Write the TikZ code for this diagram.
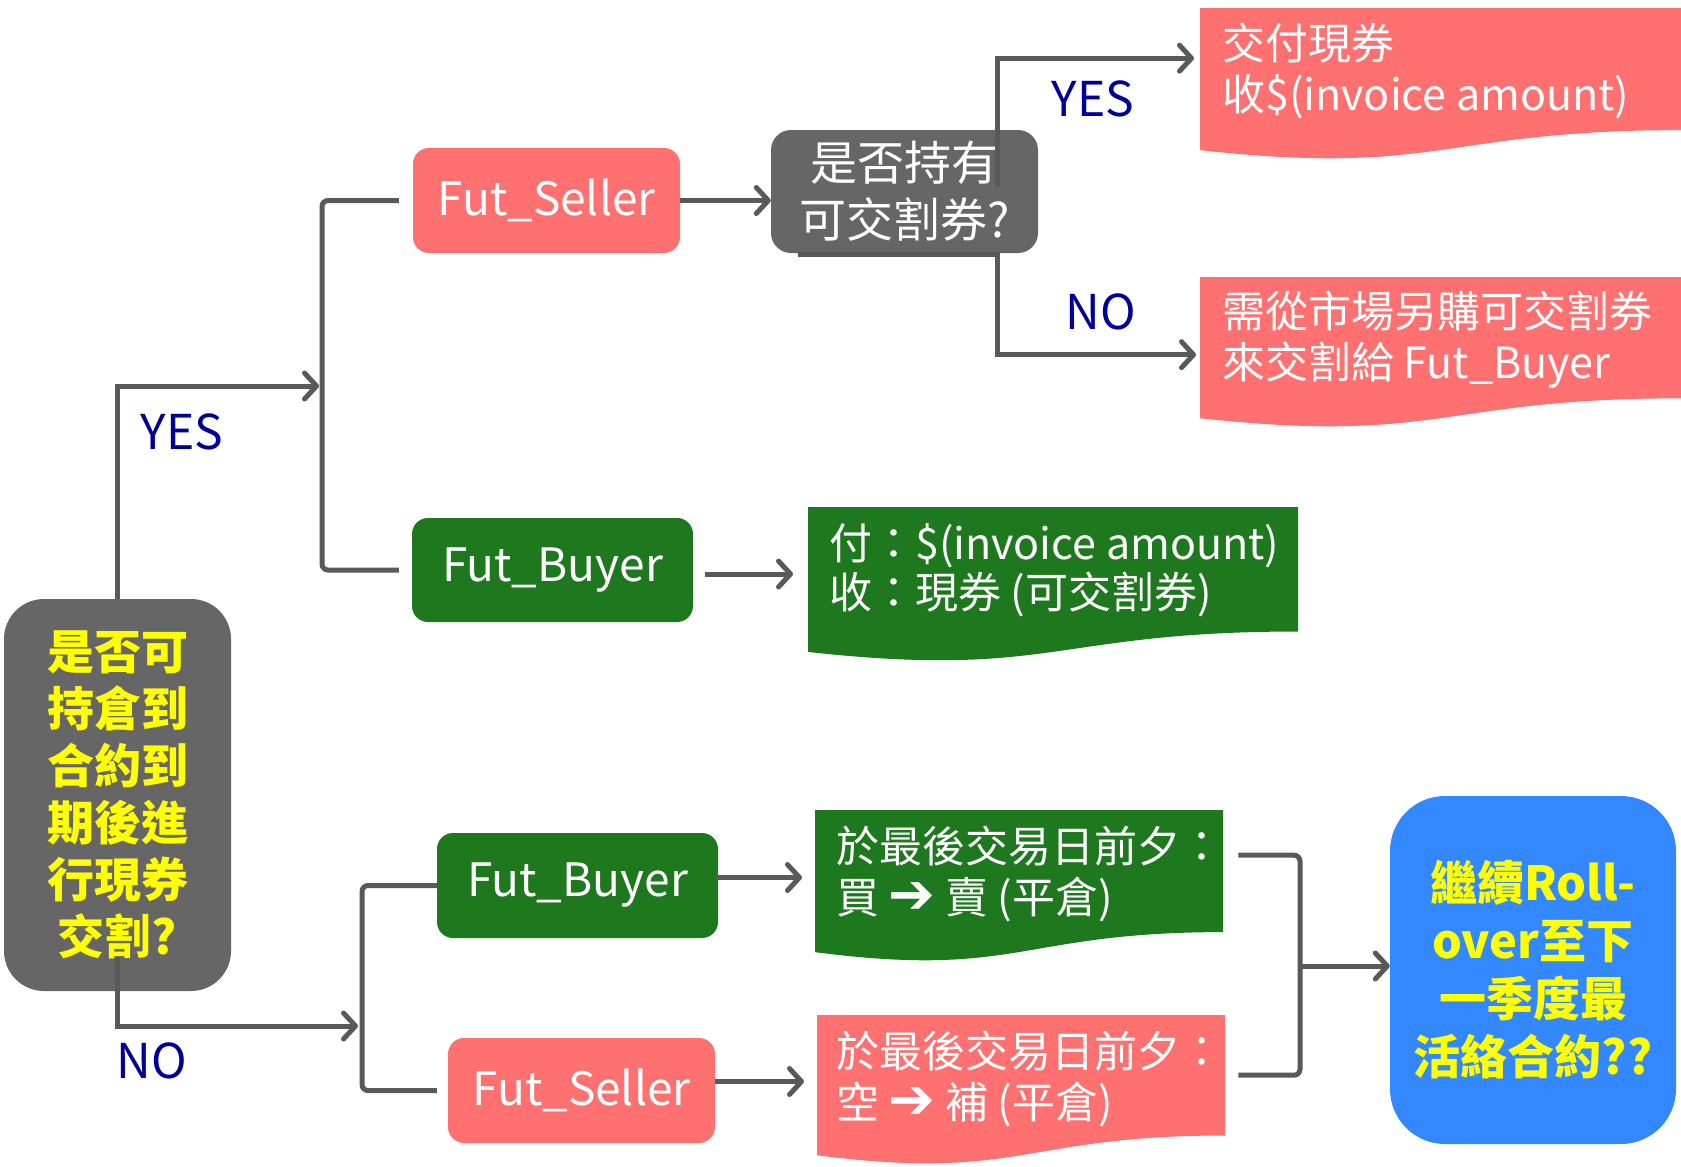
\documentclass[tikz,border=0pt]{standalone}
\usepackage{fontspec}
\setmainfont{Noto Sans CJK TC}
\newfontfamily\symf{DejaVu Sans}
\usetikzlibrary{arrows.meta,calc}
\definecolor{cred}{RGB}{255,112,112}
\definecolor{cgreen}{RGB}{30,120,30}
\definecolor{cgray}{RGB}{102,102,102}
\definecolor{cblue}{RGB}{51,136,255}
\definecolor{cline}{RGB}{89,89,89}
\definecolor{cnavy}{RGB}{0,0,153}
\definecolor{cyel}{RGB}{255,255,0}
\newcommand{\bigarr}{{\symf\fontsize{56pt}{50pt}\selectfont ➔}}
\tikzset{
  conn/.style={draw=cline, line width=5pt, -{Straight Barb[length=12pt,width=26pt,round]}},
  brk/.style={draw=cline, line width=5pt, rounded corners=6pt},
  pill/.style={rounded corners=16pt, inner sep=0pt, text=white, font=\fontsize{46pt}{54pt}\selectfont},
  doc/.style 2 args={anchor=north west, inner sep=0pt, minimum width=#1, minimum height=#2},
  docfill/.style={path picture={\fill[#1] let \p1=(path picture bounding box.south west), \p2=(path picture bounding box.north east) in
     (\x1,\y2) -- (\x2,\y2) -- (\x2,{\y2-0.802*(\y2-\y1)})
     .. controls ({0.5*(\x1+\x2)},{\y2-0.802*(\y2-\y1)}) and ({0.5*(\x1+\x2)},{\y2-1.1075*(\y2-\y1)}) .. (\x1,{\y2-0.934*(\y2-\y1)}) -- cycle;}},
  dtext/.style={anchor=west, inner sep=0pt, align=left, text=white, font=\fontsize{43pt}{51pt}\selectfont},
  yn/.style={text=cnavy, inner sep=0pt, font=\fontsize{48pt}{56pt}\selectfont},
}
\begin{document}
\begin{tikzpicture}[x=1pt,y=-1pt]
\useasboundingbox[fill=white] (0,0) rectangle (1681,1167);

% main question box
\node[fill=cgray, rounded corners=40pt, minimum width=227pt, minimum height=392pt, inner sep=0pt,
  text=cyel, align=center, font=\bfseries\fontsize{47pt}{57pt}\selectfont] (q0) at (117.5,795)
  {是否可\\持倉到\\合約到\\期後進\\行現券\\交割?};

% upper branch
\node[pill, fill=cred, minimum width=267pt, minimum height=105pt] (s1) at (546.5,200.5) {Fut\_Seller};
\node[pill, fill=cgreen, minimum width=281pt, minimum height=104pt] (b1) at (552.5,570) {Fut\_Buyer};
\node[fill=cgray, rounded corners=20pt, minimum width=267pt, minimum height=123pt, inner sep=0pt,
  text=white, align=center, font=\fontsize{47pt}{57pt}\selectfont] (g1) at (904.5,191.5) {是否持有\\可交割券?};

\node[doc={481pt}{152pt}, docfill=cred] (R1) at (1200,8) {};
\node[doc={481pt}{151pt}, docfill=cred] (R2) at (1200,277) {};
\node[doc={490pt}{155pt}, docfill=cgreen] (G1) at (808,507) {};
\node[dtext] (r1t) at (1222,71) {交付現券\\收\$(invoice amount)};
\node[dtext] (r2t) at (1222,339.5) {需從市場另購可交割券\\來交割給 Fut\_Buyer};
\node[dtext, font=\fontsize{43pt}{49pt}\selectfont] (g1t) at (829,570) {付：\$(invoice amount)\\收：現券 (可交割券)};

% lower branch
\node[pill, fill=cgreen, minimum width=281pt, minimum height=105pt] (b2) at (577.5,885.5) {Fut\_Buyer};
\node[pill, fill=cred, minimum width=267pt, minimum height=105pt] (s2) at (581.5,1090.5) {Fut\_Seller};
\node[doc={408pt}{152pt}, docfill=cgreen] (G2) at (815,810) {};
\node[doc={408pt}{150pt}, docfill=cred] (R3) at (817,1015) {};
\node[dtext] (g2t) at (836,874) {於最後交易日前夕：\\買 \bigarr{} 賣 (平倉)};
\node[dtext] (r3t) at (836,1079) {於最後交易日前夕：\\空 \bigarr{} 補 (平倉)};

\node[fill=cblue, rounded corners=55pt, minimum width=286pt, minimum height=348pt, inner sep=0pt,
  text=cyel, align=center, font=\bfseries\fontsize{47pt}{58pt}\selectfont] (bl) at (1533,970)
  {繼續Roll-\\over至下\\一季度最\\活絡合約??};

% labels
\node[yn] (yes1) at (182,432) {YES};
\node[yn] (no1) at (152,1061) {NO};
\node[yn] (yes2) at (1093,99) {YES};
\node[yn] (no2) at (1101,312) {NO};

% coordinates
\coordinate (ub) at (322,386);
\coordinate (lb) at (362,1026);
\coordinate (gy) at (997,187);
\coordinate (gn) at (798,254);
\coordinate (qn) at (117.5,957);
\coordinate (rb) at (1300,966);

% connectors
\draw[conn] (q0.north) |- ($(ub)+(-3,0)$);
\draw[brk] ($(s1.west)+(-14,0)$) -| (ub) |- ($(b1.west)+(-13,0)$);
\draw[conn] (s1.east) -- (s1.east -| g1.west);
\draw[conn] (gy) |- ($(R1.west)+(-6,-26)$);
\draw[conn] (gn) -- (gn -| gy) |- ($(R2.west)+(-4,2)$);
\draw[conn] ($(b1.east)+(12,4)$) -- ($(b1.east -| G1.west)+(-15,4)$);

\draw[conn] (qn) |- ($(lb)+(-4,0)$);
\draw[brk] (b2.west) -| (lb) |- ($(s2.west)+(-11,0)$);
\draw[conn] ($(b2.east)+(-2,-8)$) -- ($(b2.east -| G2.west)+(-13,-8)$);
\draw[conn] ($(s2.east)+(0,-9)$) -- ($(s2.east -| R3.west)+(-13,-9)$);
\draw[brk] ($(G2.east)+(15,-31)$) -| (rb) |- ($(R3.east)+(13,-15)$);
\draw[conn] (rb) -- (rb -| bl.west);
\end{tikzpicture}
\end{document}
